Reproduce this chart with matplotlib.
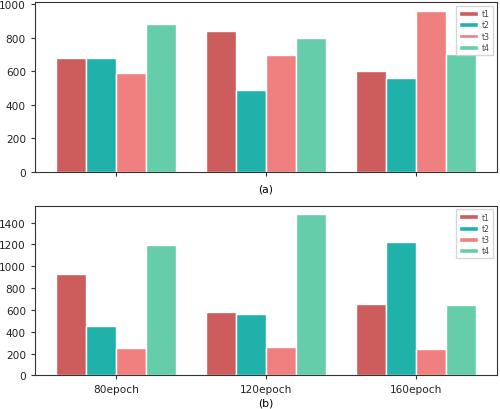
import matplotlib
matplotlib.use("Agg")
import matplotlib.pyplot as plt
from matplotlib.ticker import MultipleLocator
import numpy as np

groups = ["80epoch", "120epoch", "160epoch"]
series = ["t1", "t2", "t3", "t4"]
colors = ["#CD5C5C", "#20B2AA", "#F08080", "#66CDAA"]
vals_a = {
    "t1": [678, 840, 604],
    "t2": [681, 491, 561],
    "t3": [590, 699, 961],
    "t4": [880, 799, 703],
}
vals_b = {
    "t1": [927, 578, 651],
    "t2": [455, 560, 1223],
    "t3": [252, 262, 243],
    "t4": [1195, 1480, 644],
}

plt.rcParams['font.size'] = 7.6
fig = plt.figure(figsize=(5, 4.1), dpi=100)
ax1 = fig.add_axes([0.07, 0.578, 0.924, 0.414])
ax2 = fig.add_axes([0.07, 0.082, 0.924, 0.414])

x = np.arange(len(groups))
w = 0.2
for ax, vals, lab in [(ax1, vals_a, "(a)"), (ax2, vals_b, "(b)")]:
    for i, s in enumerate(series):
        ax.bar(x + (i - 1.5) * w, vals[s], width=w, color=colors[i],
               edgecolor="white", linewidth=1.0, label=s)
    ax.set_xticks(x)
    ax.yaxis.set_major_locator(MultipleLocator(200))
    ax.set_xlabel(lab, fontsize=7.8, labelpad=2)
    leg = ax.legend(loc="upper right", fontsize=5.5, handlelength=2.4, handleheight=0.6,
                    labelspacing=0.3, borderpad=0.4, handletextpad=0.6, fancybox=False)
    for t in leg.get_texts():
        t.set_color("#444444")
    for sp in ax.spines.values():
        sp.set_color("#333333")
    ax.tick_params(colors="#333333", labelcolor="#222222", length=3)
ax1.set_ylim(0, 1012)
ax2.set_ylim(0, 1556)
ax1.set_xticklabels([])
ax2.set_xticklabels(groups)

fig.savefig("out.png", dpi=100)
